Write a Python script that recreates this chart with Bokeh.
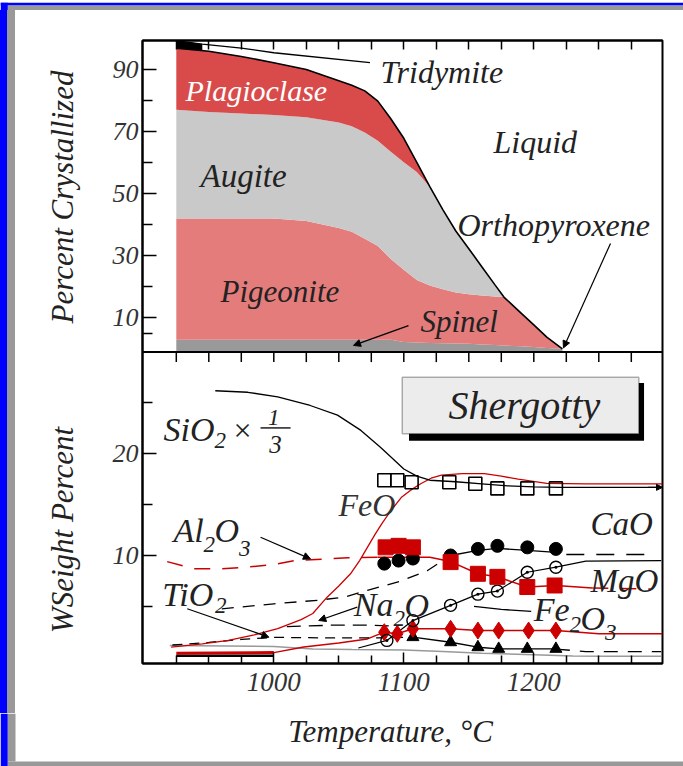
import math
from bokeh.plotting import figure
from bokeh.layouts import column, row
from bokeh.models import (Range1d, FixedTicker, CustomJSTickFormatter, LinearAxis, Label,
                          Arrow, NormalHead, BoxAnnotation, Span, Div)
from bokeh.embed import file_html
from bokeh.resources import INLINE

# ---------------- top panel: percent crystallized ----------------
temp_top = [925, 950, 975, 1000, 1025, 1050, 1060, 1070, 1080, 1090, 1100, 1110, 1120,
            1130, 1140, 1150, 1160, 1170, 1177, 1190, 1200, 1210, 1222]
total_cryst = [97.0, 96.0, 94.3, 92.3, 90.1, 86.5, 85.0, 83.2, 79.9, 74.2, 67.9, 60.1, 52.3,
               44.9, 38.0, 32.3, 26.5, 20.7, 16.7, 11.6, 7.7, 3.8, 0.0]
augite_top = [77.1, 76.4, 75.9, 75.4, 74.7, 73.0, 71.8, 69.8, 67.1, 63.6, 60.2, 57.0, 52.3,
              44.9, 38.0, 32.3, 26.5, 20.7, 16.7, 11.6, 7.7, 3.8, 0.0]
pigeonite_top = [42.0, 42.0, 42.0, 42.0, 41.2, 39.0, 37.8, 35.5, 33.2, 29.0, 25.5, 22.2, 20.4,
                 19.2, 18.2, 17.6, 17.2, 16.9, 16.7, 11.6, 7.7, 3.8, 0.0]
spinel_top = [2.9, 2.9, 2.9, 2.9, 2.9, 2.9, 2.9, 2.9, 2.9, 2.9, 2.2, 2.0, 1.9,
              1.8, 1.7, 1.6, 1.4, 1.2, 1.1, 0.8, 0.6, 0.3, 0.0]
tridymite_x = [925, 945, 975, 1000, 1074]
tridymite_y = [99.4, 98.3, 97.0, 95.5, 92.3]
trid_blob_x = [925, 935, 945]
trid_blob_lo = [97.0, 96.6, 96.2]
trid_blob_hi = [99.4, 98.9, 98.3]

# ---------------- bottom panel: liquid composition (wt%) ----------------
sio2_x = [955, 980, 1003, 1028, 1049, 1067, 1082, 1093, 1100, 1110, 1120, 1140, 1160,
          1180, 1200, 1220, 1250, 1298]
sio2_y = [26.2, 26.05, 25.6, 24.75, 23.8, 22.3, 20.65, 19.35, 18.5, 17.8, 17.4, 17.25,
          17.05, 16.85, 16.75, 16.7, 16.7, 16.7]
sio2_pt_x = [1085, 1095, 1106, 1135, 1155, 1172, 1195, 1217]
sio2_pt_y = [17.4, 17.4, 17.2, 17.2, 17.05, 16.6, 16.6, 16.6]

feo_x = [921, 945, 965, 985, 1003, 1021, 1030, 1041, 1050, 1059, 1066, 1072, 1078, 1083,
         1090, 1098, 1105, 1113, 1121, 1129, 1145, 1162, 1175, 1188, 1210, 1240, 1270, 1299]
feo_y = [1.0, 1.3, 1.65, 2.2, 2.8, 3.7, 4.3, 5.9, 7.0, 8.2, 9.5, 10.8, 12.1, 13.1,
         14.4, 15.7, 16.4, 17.05, 17.6, 17.9, 18.05, 18.05, 17.8, 17.5, 17.1, 17.05, 17.05, 17.05]

al_calc_x = [918, 938, 960, 978, 1000, 1016, 1040, 1057, 1080]
al_calc_y = [9.4, 8.7, 8.7, 8.85, 9.1, 9.5, 9.65, 9.77, 9.83]
al_line_x = [1080, 1120, 1136, 1157, 1172, 1195, 1217, 1245]
al_line_y = [9.83, 9.83, 9.4, 8.2, 7.9, 6.9, 7.05, 6.8]
al_hi_x = [1245, 1290]
al_hi_y = [6.8, 6.7]
al_pt_x = [1086, 1096, 1107, 1136, 1157, 1172, 1195, 1216]
al_pt_y = [10.8, 10.95, 10.8, 9.35, 8.2, 7.9, 6.9, 7.05]

cao_calc_x = [960, 1000, 1034, 1054, 1072, 1098, 1118, 1136]
cao_calc_y = [4.75, 5.25, 5.6, 5.9, 6.56, 7.5, 8.5, 10.0]
cao_line_x = [1136, 1157, 1172, 1195, 1217]
cao_line_y = [10.0, 10.5, 10.7, 10.5, 10.3]
cao_hi_x = [1225, 1285]
cao_hi_y = [10.1, 10.1]
cao_pt_x = [1085, 1096, 1107, 1136, 1157, 1172, 1195, 1217]
cao_pt_y = [9.2, 9.5, 9.7, 10.0, 10.65, 10.95, 10.8, 10.65]

mgo_x = [1065, 1087, 1107, 1136, 1157, 1172, 1195, 1217, 1240, 1298]
mgo_y = [0.9, 1.65, 3.6, 5.1, 6.2, 6.5, 8.35, 8.85, 9.45, 9.5]
mgo_pt_x = [1087, 1107, 1136, 1157, 1172, 1195, 1217]
mgo_pt_y = [1.65, 3.6, 5.1, 6.2, 6.5, 8.35, 8.85]

fe2o3_x = [1000, 1023, 1050, 1072, 1085, 1095, 1107, 1136, 1157, 1173, 1196, 1217, 1250, 1299]
fe2o3_y = [0.45, 1.0, 1.4, 1.8, 2.46, 2.3, 2.79, 2.79, 2.62, 2.62, 2.62, 2.62, 2.3, 2.3]
fe2o3_lo_x = [925, 1000]
fe2o3_lo_y = [0.4, 0.45]
fe2o3_pt_x = [1085, 1095, 1107, 1136, 1157, 1173, 1196, 1217]
fe2o3_pt_y = [2.46, 2.3, 2.79, 2.79, 2.62, 2.62, 2.62, 2.62]

tio2_calc_x = [922, 950, 975, 1000, 1040, 1080, 1107]
tio2_calc_y = [1.2, 1.45, 1.75, 1.95, 1.9, 1.9, 1.97]
tio2_line_x = [1107, 1136, 1157, 1173, 1195, 1217]
tio2_line_y = [1.97, 1.47, 0.98, 0.82, 0.82, 0.82]
tio2_hi_x = [1217, 1240, 1298]
tio2_hi_y = [0.8, 0.55, 0.55]
tio2_pt_x = [1107, 1136, 1157, 1173, 1195, 1217]
tio2_pt_y = [1.97, 1.47, 0.98, 0.82, 0.82, 0.82]

na2o_x = [1010, 1045, 1075, 1092]
na2o_y = [3.0, 3.15, 3.15, 3.05]
na2o_hi_x = [1154, 1175, 1198]
na2o_hi_y = [5.0, 4.7, 4.5]

k2o_x = [920, 1000, 1030, 1060, 1100, 1130, 1160, 1200, 1230, 1260, 1298]
k2o_y = [1.15, 1.05, 0.8, 0.75, 0.7, 0.55, 0.4, 0.25, 0.12, 0.1, 0.1]
p2o5_x = [925, 1000]
p2o5_y = [0.15, 0.15]

# ---------------- axis ticks ----------------
x_major = [1000, 1100, 1200]
x_minor = [925, 950, 975, 1025, 1050, 1075, 1125, 1150, 1175, 1225, 1250, 1275]
x_all = sorted(x_major + x_minor)
top_major = [10, 30, 50, 70, 90]
top_minor = [5, 20, 40, 60, 80]
bot_major = [10, 20]
bot_minor = [5, 15, 25]

# ---------------- ranges ----------------
X0, X1 = 899.0, 1299.0
B0, B1 = -0.62, 60.64      # bottom-panel scale over the whole frame
T0, T1 = -101.5, 99.45     # top-panel scale over the whole frame
SPLIT = 30.0
FRAME_H = 623


def to_bottom(v):
    return B0 + (v - T0) * (B1 - B0) / (T1 - T0)


TOP_BASE = T0 + (SPLIT - B0) * (T1 - T0) / (B1 - B0)
TICK_LEN = 10 * (B1 - B0) / FRAME_H

FONT = "Liberation Serif"
RED = "#cc0000"
INK = "#222222"
BLUE = "#0000ff"
FRAME_GRAY = "#999999"

p = figure(width=583, height=703, x_range=Range1d(X0, X1), y_range=Range1d(B0, B1),
           output_backend="svg", toolbar_location=None, title=None,
           min_border_left=42, min_border_right=21, min_border_top=30, min_border_bottom=50)
p.extra_y_ranges = {"top": Range1d(T0, T1)}
p.xgrid.visible = False
p.ygrid.visible = False
p.outline_line_color = "black"
p.outline_line_width = 2
p.background_fill_color = "white"
p.border_fill_color = "white"

# ---- axes ----
yax = p.yaxis[0]
yax.ticker = FixedTicker(ticks=bot_major + [to_bottom(v) for v in top_major],
                         minor_ticks=bot_minor + [to_bottom(v) for v in top_minor])
yax.formatter = CustomJSTickFormatter(args=dict(b0=B0, b1=B1, t0=T0, t1=T1, split=SPLIT), code="""
if (tick > split + 0.5) {
  const v = t0 + (tick - b0) * (t1 - t0) / (b1 - b0);
  return Math.round(v).toString();
}
return Math.round(tick).toString();
""")
yax.major_tick_in = 14
yax.major_tick_out = 0
yax.minor_tick_in = 10
yax.minor_tick_out = 0
yax.axis_line_width = 2
yax.major_tick_line_width = 1.5
yax.minor_tick_line_width = 1.5
yax.major_label_standoff = 4
yax.major_label_text_font = FONT
yax.major_label_text_font_style = "italic"
yax.major_label_text_font_size = "26px"
yax.major_label_text_color = "#333333"

xax = p.xaxis[0]
xax.ticker = FixedTicker(ticks=x_major, minor_ticks=x_minor)
xax.major_tick_in = 11
xax.major_tick_out = 0
xax.minor_tick_in = 8
xax.minor_tick_out = 0
xax.axis_line_width = 2
xax.major_tick_line_width = 1.5
xax.minor_tick_line_width = 1.5
xax.major_label_standoff = 9
xax.major_label_text_font = FONT
xax.major_label_text_font_style = "italic"
xax.major_label_text_font_size = "27px"
xax.major_label_text_color = "#333333"

top_ax = LinearAxis(ticker=FixedTicker(ticks=x_all),
                    formatter=CustomJSTickFormatter(code="return '';"))
top_ax.major_tick_in = 9
top_ax.major_tick_out = 0
top_ax.minor_tick_line_color = None
top_ax.major_tick_line_width = 1.5
top_ax.axis_line_width = 2
top_ax.major_label_text_font_size = "1px"
top_ax.major_label_standoff = 0
p.add_layout(top_ax, "above")

# ticks hanging from the boundary between the two panels (same tick values as the x axis)
p.segment(x0=x_all, y0=[SPLIT] * len(x_all), x1=x_all, y1=[SPLIT - TICK_LEN] * len(x_all),
          line_color="black", line_width=1.5)
p.add_layout(Span(location=SPLIT, dimension="width", line_color="black", line_width=2))

# ---- top panel: stacked phases ----
n = len(temp_top)
p.varea(x=temp_top, y1=[TOP_BASE] * n, y2=spinel_top, fill_color="#999999", y_range_name="top")
p.varea(x=temp_top, y1=spinel_top, y2=pigeonite_top, fill_color="#e47c7c", y_range_name="top")
p.varea(x=temp_top, y1=pigeonite_top, y2=augite_top, fill_color="#c9c9c9", y_range_name="top")
p.varea(x=temp_top, y1=augite_top, y2=total_cryst, fill_color="#d94b4b", y_range_name="top")
p.varea(x=trid_blob_x, y1=trid_blob_lo, y2=trid_blob_hi, fill_color="black", y_range_name="top")
p.line(tridymite_x, tridymite_y, line_color="black", line_width=1.3, y_range_name="top")
p.line(temp_top, total_cryst, line_color="black", line_width=1.6, y_range_name="top")

# ---- bottom panel: lines ----
p.line(k2o_x, k2o_y, line_color="#999999", line_width=1.5)
p.line(p2o5_x, p2o5_y, line_color="black", line_width=2.5)
p.line(fe2o3_lo_x, fe2o3_lo_y, line_color=RED, line_width=3)
p.line(fe2o3_x, fe2o3_y, line_color=RED, line_width=1.5)
p.line(tio2_calc_x, tio2_calc_y, line_color="black", line_width=1.3, line_dash="10 7")
p.line(tio2_line_x, tio2_line_y, line_color="black", line_width=1.3)
p.line(tio2_hi_x, tio2_hi_y, line_color="black", line_width=1.3, line_dash="14 10")
p.line(na2o_x, na2o_y, line_color="black", line_width=1.3, line_dash="14 8")
p.line(na2o_hi_x, na2o_hi_y, line_color="black", line_width=1.3)
p.line(mgo_x, mgo_y, line_color="black", line_width=1.2)
p.line(cao_calc_x, cao_calc_y, line_color="black", line_width=1.3, line_dash="12 9")
p.line(cao_line_x, cao_line_y, line_color="black", line_width=1.3)
p.line(cao_hi_x, cao_hi_y, line_color="black", line_width=1.3, line_dash="18 12")
p.line(al_calc_x, al_calc_y, line_color=RED, line_width=1.5, line_dash="16 12")
p.line(al_line_x, al_line_y, line_color=RED, line_width=1.5)
p.line(al_hi_x, al_hi_y, line_color=RED, line_width=1.5, line_dash="16 12")
p.line(feo_x, feo_y, line_color=RED, line_width=1.3)
p.line(sio2_x, sio2_y, line_color="black", line_width=1.3)

# ---- bottom panel: measured points ----
p.scatter(tio2_pt_x, tio2_pt_y, marker="triangle", size=12, fill_color="black", line_color="black")
p.scatter(fe2o3_pt_x, fe2o3_pt_y, marker="diamond", size=17, fill_color=RED, line_color=RED)
p.scatter(mgo_pt_x, mgo_pt_y, marker="circle_dot", size=12, fill_alpha=0, line_color="black",
          line_width=1.4)
p.scatter(cao_pt_x, cao_pt_y, marker="circle", size=13, fill_color="black", line_color="black")
p.scatter(al_pt_x, al_pt_y, marker="square", size=15, fill_color=RED, line_color=RED)
p.scatter(sio2_pt_x, sio2_pt_y, marker="square", size=13, fill_alpha=0, line_color="black",
          line_width=1.6)


# ---- text ----
# y is the alphabetic baseline wanted; the label is anchored at the middle of its em box
def lab(fig, text, x, y, size, rng=None, color=INK, align="left", units_per_px=None):
    if units_per_px is None:
        units_per_px = ((T1 - T0) if rng == "top" else (B1 - B0)) / FRAME_H
    kw = dict(x=x, y=y + 0.335 * size * units_per_px, text=text, text_font=FONT,
              text_font_style="italic", text_font_size=f"{size}px", text_color=color,
              text_align=align, text_baseline="middle")
    if rng:
        kw["y_range_name"] = rng
    fig.add_layout(Label(**kw))


def arrow(x0, y0, x1, y1, rng=None, size=7):
    a = Arrow(end=NormalHead(size=size, fill_color="black", line_color="black"),
              x_start=x0, y_start=y0, x_end=x1, y_end=y1, line_width=1.2, line_color="black")
    if rng:
        a.y_range_name = rng
    p.add_layout(a)


# top panel labels
lab(p, "Tridymite", 1082.1, 85.9, 32, "top")
lab(p, "Plagioclase", 932.1, 80.1, 30, "top", "white")
lab(p, "Liquid", 1169.0, 63.4, 32, "top")
lab(p, "Augite", 943.6, 52.1, 33, "top")
lab(p, "Orthopyroxene", 1141.3, 36.5, 32, "top")
lab(p, "Pigeonite", 959.0, 15.0, 31, "top")
lab(p, "Spinel", 1112.8, 5.4, 31, "top")
arrow(1103.6, 7.5, 1061.3, 1.1, "top")
arrow(1259.0, 34.0, 1222.8, 0.3, "top")

# bottom panel labels (formulas laid out piece by piece)
lab(p, "SiO", 915.2, 21.31, 34)
lab(p, "2", 954.4, 20.52, 23)
lab(p, "\u00d7", 967.5, 21.31, 32)
lab(p, "1", 1000.0, 22.8, 23, align="center")
lab(p, "3", 1001.3, 20.13, 25, align="center")
p.add_layout(BoxAnnotation(left=989.8, right=1012.9, bottom=22.47, top=22.62,
                           fill_color=INK, fill_alpha=1, line_alpha=0))
lab(p, "FeO", 1049.8, 13.93, 32, color="#333333")
lab(p, "CaO", 1243.6, 11.97, 33)
lab(p, "Al", 922.8, 11.31, 34)
lab(p, "2", 945.9, 10.29, 23)
lab(p, "O", 954.4, 11.31, 34)
lab(p, "3", 973.2, 9.9, 23)
lab(p, "TiO", 914.2, 5.08, 34)
lab(p, "2", 954.8, 4.3, 23)
lab(p, "Na", 1061.5, 4.1, 34)
lab(p, "2", 1092.1, 3.02, 23)
lab(p, "O", 1100.5, 4.0, 34)
lab(p, "MgO", 1243.6, 6.39, 33)
lab(p, "Fe", 1200.0, 3.61, 34)
lab(p, "2", 1227.5, 2.43, 23)
lab(p, "O", 1235.9, 2.72, 34)
lab(p, "3", 1254.8, 1.64, 23)
arrow(989.8, 11.8, 1028.2, 9.67)
arrow(933.4, 4.76, 996.2, 1.97)
arrow(1064.2, 4.92, 1034.6, 3.61)
arrow(1288.0, 16.7, 1299.0, 16.7, size=6)

# Shergotty box with drop shadow
p.add_layout(BoxAnnotation(left=1104.0, right=1284.8, bottom=21.29, top=26.96,
                           fill_color="black", fill_alpha=1, line_alpha=0))
p.add_layout(BoxAnnotation(left=1098.8, right=1280.8, bottom=21.96, top=27.53,
                           fill_color="#ececec", fill_alpha=1, line_color="black", line_width=1.5))
lab(p, "Shergotty", 1192.8, 23.4, 40, align="center")


# ---- window frame strips and axis titles ----
def blank(w, h):
    f = figure(width=w, height=h, x_range=Range1d(0, w), y_range=Range1d(h, 0),
               output_backend="svg", toolbar_location=None, title=None,
               x_axis_type=None, y_axis_type=None,
               min_border=0, min_border_left=0, min_border_right=0,
               min_border_top=0, min_border_bottom=0)
    f.outline_line_color = None
    f.background_fill_color = "white"
    f.border_fill_color = "white"
    return f


def band(fig, l, r, t, b, color):
    fig.add_layout(BoxAnnotation(left=l, right=r, top=t, bottom=b, fill_color=color,
                                 fill_alpha=1, line_alpha=0))


top_strip = blank(683, 10)
band(top_strip, 7.3, 683, 2.7, 10, FRAME_GRAY)
band(top_strip, 0, 683, 0, 2.7, BLUE)
band(top_strip, 0, 7.3, 0, 10, BLUE)

title_css = ("position:absolute;left:62px;transform:translate(-50%,-50%) rotate(-90deg);"
             "white-space:nowrap;font-family:'Liberation Serif';font-style:italic;"
             "font-size:31px;line-height:1;color:#222222;")
side_html = (
    "<div style=\"position:relative;width:100px;height:703px;margin:0;padding:0;"
    "background:linear-gradient(to right,#0000ff 0px,#0000ff 7.3px,#999999 7.3px,"
    "#999999 15px,#ffffff 15px);\">"
    f"<div style=\"{title_css}top:187px;\">Percent Crystallized</div>"
    f"<div style=\"{title_css}top:520px;\">WSeight Percent</div>"
    "</div>"
)
side = Div(text=side_html, width=100, height=703, margin=(0, 0, 0, 0))

bottom_strip = blank(683, 53)
band(bottom_strip, 0, 7.3, 0, 53, BLUE)
band(bottom_strip, 7.3, 15, 0, 48, FRAME_GRAY)
band(bottom_strip, 7.3, 683, 48, 53, FRAME_GRAY)
lab(bottom_strip, "Temperature, \u00b0C", 390, 28.7, 31, align="center", units_per_px=-1.0)

layout = column(top_strip, row(side, p), bottom_strip)

open("out.html", "w").write(file_html(layout, INLINE))
